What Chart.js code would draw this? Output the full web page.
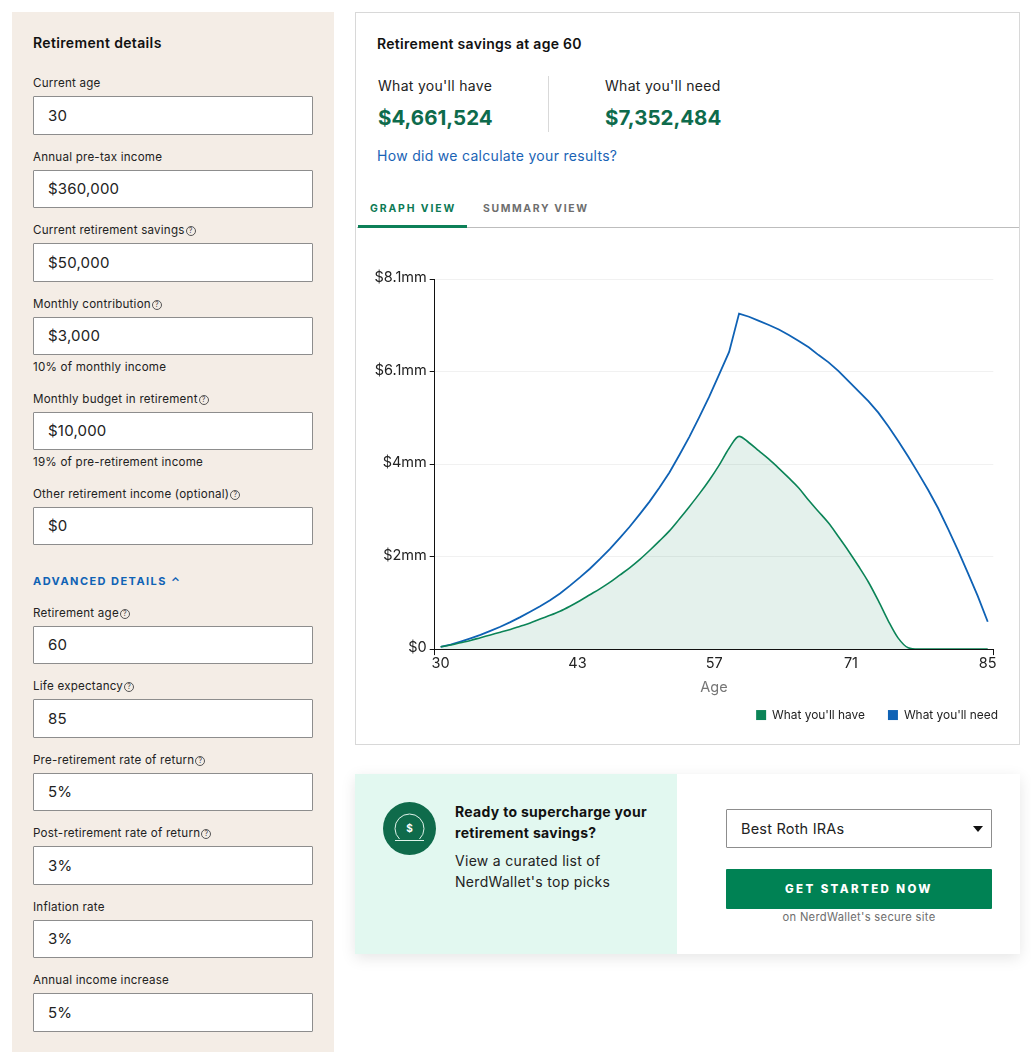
<!DOCTYPE html>
<html><head><meta charset="utf-8">
<style>
html,body{margin:0;padding:0;background:#fff;width:1031px;height:1060px;overflow:hidden;font-family:Inter,sans-serif;color:#1a1a1a}
.a{position:absolute;white-space:nowrap}
.t{position:absolute;white-space:nowrap;line-height:20px;height:20px}
.box{position:absolute;box-sizing:border-box;background:#fff;border:1px solid #8d8d8d;border-radius:1px}
.q{display:inline-block;box-sizing:border-box;width:10px;height:10px;border:1px solid #555;border-radius:50%;font-size:7px;line-height:8px;text-align:center;margin-left:1px;vertical-align:1px;color:#444;letter-spacing:0}
#wrap{position:absolute;left:356px;top:262px;width:675px;height:470px}
</style></head><body>
<div class="a" style="left:12px;top:12px;width:322px;height:1040px;background:#f4ede6"></div>
<div class="a" style="left:355px;top:12px;width:665px;height:733px;box-sizing:border-box;border:1px solid #d8d8d8"></div>
<div class="a" style="left:548px;top:76px;width:1px;height:56px;background:#d9d9d9"></div>
<div class="a" style="left:357px;top:227px;width:662px;height:1px;background:#bdbdbd"></div>
<div class="a" style="left:358px;top:225px;width:109px;height:2.5px;background:#0d8058"></div>
<div class="a" style="left:355px;top:774px;width:665px;height:180px;background:#fff;box-shadow:0 4px 14px rgba(0,0,0,.10)"></div>
<div class="a" style="left:355px;top:774px;width:322px;height:180px;background:#e2f8f0"></div>
<svg class="a" style="left:383px;top:802px" width="53" height="53" viewBox="0 0 53 53">
<circle cx="26.5" cy="26.5" r="26.5" fill="#0f6b4b"/>
<path d="M16.5 37 A14.5 14.5 0 1 1 36.5 37" fill="none" stroke="#dff3ea" stroke-width="1"/>
<line x1="12" y1="38.5" x2="41" y2="38.5" stroke="#dff3ea" stroke-width="1"/>
<text x="26.5" y="30" text-anchor="middle" font-size="10" font-weight="700" fill="#fff" font-family="Inter">$</text>
</svg>
<div class="box" style="left:726px;top:809px;width:266px;height:39px"></div>
<div class="a" style="left:726px;top:869px;width:266px;height:40px;background:#008254;border-radius:1px"></div>
<svg class="a" style="left:973px;top:826px" width="10" height="6"><path d="M0 0H10L5 6Z" fill="#111"/></svg>
<div id="wrap"><canvas id="c" width="675" height="470"></canvas></div>
<script src="https://cdn.jsdelivr.net/npm/chart.js@4"></script>
<script>
const ages=[30,31,32,33,34,35,36,37,38,39,40,41,42,43,44,45,46,47,48,49,50,51,52,53,54,55,56,57,58,59,60,61,62,63,64,65,66,67,68,69,70,71,72,73,74,75,76,77,78,79,80,81,82,83,84,85];
const need=[0.05,0.10,0.165,0.235,0.31,0.40,0.49,0.59,0.70,0.82,0.94,1.07,1.22,1.39,1.57,1.76,1.97,2.19,2.43,2.68,2.95,3.23,3.54,3.87,4.25,4.65,5.08,5.53,6.02,6.51,7.35,7.28,7.19,7.10,7.00,6.88,6.75,6.61,6.44,6.28,6.09,5.87,5.65,5.43,5.18,4.88,4.56,4.22,3.86,3.49,3.09,2.64,2.17,1.67,1.16,0.60];
const have=[0.05,0.09,0.14,0.19,0.25,0.31,0.37,0.43,0.50,0.57,0.66,0.74,0.83,0.94,1.06,1.19,1.32,1.46,1.62,1.78,1.96,2.16,2.37,2.59,2.85,3.12,3.40,3.70,4.03,4.40,4.66,4.52,4.34,4.16,3.96,3.75,3.53,3.26,3.01,2.76,2.46,2.15,1.82,1.47,1.06,0.62,0.24,0.03,0,0,0,0,0,0,0,0];
const yTicks=[0,2.025,4.05,6.075,8.1];
const yLabels=['$0','$2mm','$4mm','$6.1mm','$8.1mm'];
const xMin=29.4,xMax=85.56;
const xTicks=[xMin,30,43.75,57.5,71.25,85,xMax];
const xLabels=['','30','43','57','71','85',''];
const seriesNames=["What you'll have","What you'll need"];
const green='#0b8457',blue='#0f62b5';

const fields=[['Current age','30',83,96,39,0],['Annual pre-tax income','$360,000',157,170,38,0],['Current retirement savings','$50,000',230,243,39,1],['Monthly contribution','$3,000',304,317,38,1],['Monthly budget in retirement','$10,000',399,412,38,1],['Other retirement income (optional)','$0',494,507,38,1],['Retirement age','60',613,626,38,1],['Life expectancy','85',686,699,39,1],['Pre-retirement rate of return','5%',760,773,38,1],['Post-retirement rate of return','3%',833,846,39,1],['Inflation rate','3%',907,920,38,0],['Annual income increase','5%',980,993,39,0]];
function t(x,yc,s,css){const d=document.createElement('div');d.className='t';d.style.cssText='left:'+x+'px;top:'+(yc-10)+'px;'+css;d.innerHTML=s;document.body.appendChild(d);return d}
const lab='font-size:11.6px;letter-spacing:.22px;color:#222';
fields.forEach(f=>{
 t(33,f[2],f[0]+(f[5]?'<span class="q">?</span>':''),lab);
 const b=document.createElement('div');b.className='box';b.style.cssText='left:33px;top:'+f[3]+'px;width:280px;height:'+f[4]+'px';document.body.appendChild(b);
 t(48,f[3]+f[4]/2,f[1],'font-size:15px;letter-spacing:.2px;color:#222');
});
t(33,43,'Retirement details','font-size:14px;letter-spacing:.35px;font-weight:600;color:#111');
t(33,367,'10% of monthly income',lab);
t(33,462,'19% of pre-retirement income',lab);
t(33,581,'ADVANCED DETAILS <span style="display:inline-block;font-size:11px">⌃</span>','font-size:11px;font-weight:700;letter-spacing:1.45px;color:#0f62b5');
t(377,44,'Retirement savings at age 60','font-size:14px;letter-spacing:.3px;font-weight:600;color:#111');
t(378,86,"What you'll have",'font-size:14px;letter-spacing:.3px;color:#222');
t(605,86,"What you'll need",'font-size:14px;letter-spacing:.3px;color:#222');
t(378,118,'$4,661,524','font-size:20.5px;font-weight:700;color:#0e6b4c');
t(605,118,'$7,352,484','font-size:20.5px;font-weight:700;color:#0e6b4c');
t(377,156,'How did we calculate your results?','font-size:14px;letter-spacing:.3px;color:#1a63b5');
t(370,208.5,'GRAPH VIEW','font-size:10.4px;font-weight:700;letter-spacing:1.9px;color:#0d7a55');
t(483,208.5,'SUMMARY VIEW','font-size:10.4px;font-weight:700;letter-spacing:1.65px;color:#6e6e6e');
t(455,812,'Ready to supercharge your','font-size:14px;letter-spacing:.3px;font-weight:700;color:#111');
t(455,833,'retirement savings?','font-size:14px;letter-spacing:.3px;font-weight:700;color:#111');
t(455,861,'View a curated list of','font-size:14px;letter-spacing:.3px;color:#222');
t(455,882,"NerdWallet's top picks",'font-size:14px;letter-spacing:.3px;color:#222');
t(741,829,'Best Roth IRAs','font-size:14.5px;letter-spacing:.2px;color:#222');
t(726,889,'GET STARTED NOW','width:266px;text-align:center;font-size:11.5px;font-weight:800;letter-spacing:2.4px;color:#fff');
t(726,917,"on NerdWallet's secure site",'width:266px;text-align:center;font-size:11.2px;letter-spacing:.3px;color:#6e6e6e');

Chart.defaults.font.family='Inter';
new Chart(document.getElementById('c'),{
 type:'line',
 data:{labels:ages,datasets:[
  {label:seriesNames[0],data:have.map((v,i)=>({x:ages[i],y:v})),borderColor:green,borderWidth:1.6,backgroundColor:'rgba(11,130,85,0.11)',fill:'origin',cubicInterpolationMode:'monotone',pointRadius:0},
  {label:seriesNames[1],data:need.map((v,i)=>({x:ages[i],y:v})),borderColor:blue,borderWidth:1.8,backgroundColor:blue,fill:false,tension:0,pointRadius:0}
 ]},
 options:{
  responsive:false,animation:false,devicePixelRatio:1,
  layout:{padding:{left:0,right:10,top:17.3,bottom:1}},
  plugins:{tooltip:{enabled:false},
   legend:{position:'bottom',align:'end',labels:{boxWidth:10,boxHeight:10,padding:23,color:'#222',font:{size:11.9},
    generateLabels:c=>c.data.datasets.map((d,i)=>({text:d.label,fillStyle:d.borderColor,strokeStyle:d.borderColor,lineWidth:0,datasetIndex:i,fontColor:'#222'}))}}},
  scales:{
   x:{type:'linear',min:xMin,max:xMax,
    afterBuildTicks:s=>{s.ticks=xTicks.map(v=>({value:v}))},
    afterFit:s=>{s.height=37},
    grid:{drawOnChartArea:false,drawTicks:true,tickLength:6,tickWidth:1,tickColor:c=>(c.index===0||c.index===xTicks.length-1)?'#111':'rgba(0,0,0,0)'},
    border:{color:'#111',width:1,z:2},
    ticks:{autoSkip:false,maxRotation:0,padding:0,color:'#222',font:{size:14.5},callback:(v,i)=>xLabels[i]},
    title:{display:true,text:'Age',color:'#767676',font:{size:14.5},padding:{top:5,bottom:-10}}},
   y:{type:'linear',min:0,max:8.1,position:'left',
    afterBuildTicks:s=>{s.ticks=yTicks.map(v=>({value:v}))},
    afterFit:s=>{s.width=78.7},
    grid:{color:'#f1f1f1',tickColor:'#111',tickLength:5,tickWidth:1},
    border:{color:'#111',width:1,z:2},
    ticks:{padding:3,labelOffset:-1.5,color:'#222',font:{size:14.5},callback:(v,i)=>yLabels[i]}},
   pad:{type:'linear',position:'right',display:true,grid:{display:false},border:{display:false},ticks:{display:false},afterFit:s=>{s.width=27.7}}
  }
 }
});
</script>
</body></html>
